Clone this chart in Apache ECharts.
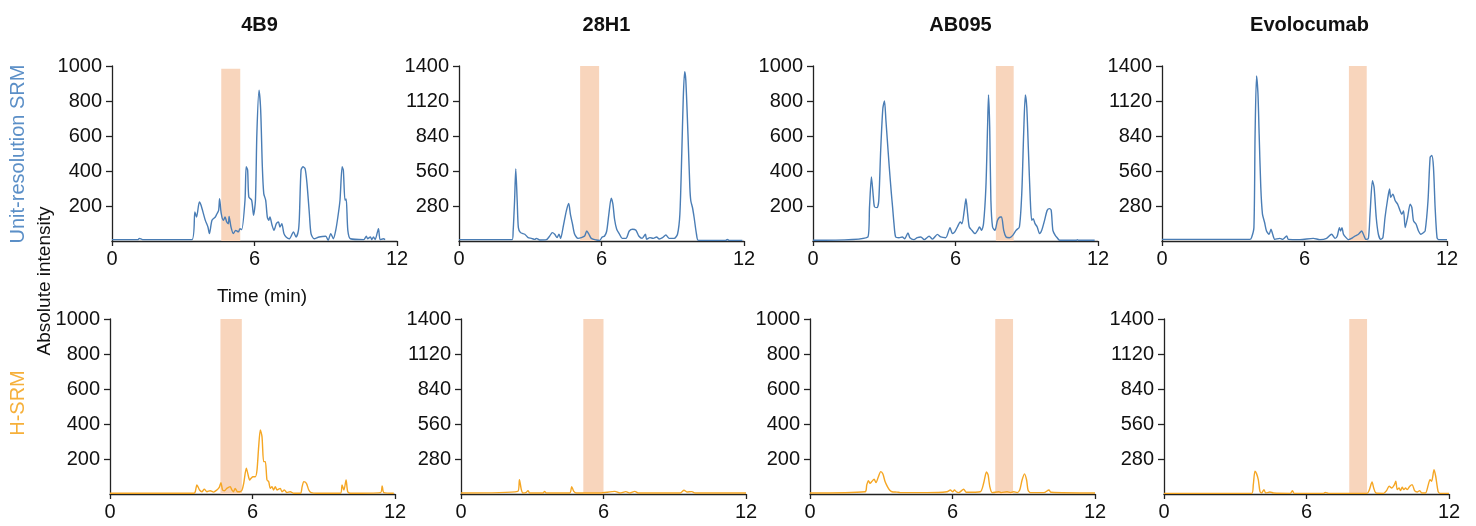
<!DOCTYPE html>
<html>
<head>
<meta charset="utf-8">
<script src="https://cdn.jsdelivr.net/npm/echarts@6/dist/echarts.min.js"></script>
<style>
  html, body { margin: 0; padding: 0; background: #fff; }
  #chart { width: 1476px; height: 526px; }
</style>
</head>
<body>
<div id="chart"></div>
<script>
// panel titles and axis scales
var panelNames = ["4B9", "28H1", "AB095", "Evolocumab"];
var yMaxes = [1000, 1400, 1000, 1400];
var yIntervals = [200, 280, 200, 280];
var xTicks = [0, 6, 12];

// shaded retention windows (min) and their top (intensity)
var windowsSrm = [[4.6, 5.4], [5.1, 5.9], [7.7, 8.45], [7.87, 8.62]];
var windowTopSrm = [985, 1415, 1000, 1400];
var windowsHsrm = [[4.65, 5.55], [5.15, 6.0], [7.8, 8.55], [7.8, 8.55]];
var windowTopHsrm = [1035, 1400, 1010, 1400];

// unit-resolution SRM traces [time, intensity]
var srm4B9 = [[0,8],[1.1,8],[1.15,15],[1.29,8],[3.37,8],[3.49,166],[3.56,137],[3.68,223],[3.75,204],[3.93,118],[4.04,80],[4.1,42],[4.21,118],[4.35,137],[4.42,156],[4.49,175],[4.53,242],[4.6,156],[4.69,118],[4.76,137],[4.83,109],[4.9,99],[4.93,141],[5.01,80],[5.11,42],[5.21,61],[5.32,52],[5.39,71],[5.46,65],[5.6,233],[5.65,424],[5.71,405],[5.76,252],[5.88,233],[5.96,147],[6.04,233],[6.1,614],[6.19,862],[6.26,748],[6.33,424],[6.39,271],[6.47,233],[6.54,137],[6.6,118],[6.65,137],[6.74,90],[6.82,61],[6.92,99],[7.01,109],[7.07,80],[7.15,99],[7.24,42],[7.33,23],[7.47,13],[7.64,52],[7.75,23],[7.85,61],[7.89,137],[7.96,405],[8.04,424],[8.13,414],[8.21,328],[8.31,156],[8.38,42],[8.51,13],[8.72,23],[9.0,27],[9.1,4],[9.21,42],[9.32,13],[9.42,61],[9.51,137],[9.6,233],[9.69,424],[9.74,405],[9.81,233],[9.86,240],[9.93,61],[10.04,13],[10.6,8],[10.71,27],[10.76,13],[10.88,23],[10.94,8],[11.01,23],[11.08,8],[11.22,71],[11.29,8],[11.43,13],[11.5,8]];
var srm28H1 = [[0,11],[2.24,11],[2.28,80],[2.34,322],[2.39,577],[2.45,322],[2.5,107],[2.59,67],[2.77,54],[2.91,27],[3.05,21],[3.19,13],[3.26,21],[3.4,8],[3.68,11],[3.82,40],[3.93,67],[4.03,54],[4.13,27],[4.21,54],[4.28,21],[4.38,107],[4.52,241],[4.62,300],[4.69,215],[4.78,134],[4.87,54],[5.01,21],[5.15,27],[5.29,40],[5.38,80],[5.47,54],[5.57,21],[5.78,8],[5.92,5],[6.03,32],[6.13,40],[6.22,80],[6.31,215],[6.41,343],[6.48,295],[6.55,174],[6.64,94],[6.76,54],[6.87,21],[7.03,21],[7.17,80],[7.31,94],[7.45,86],[7.57,40],[7.71,21],[7.85,54],[7.9,13],[8.04,27],[8.18,21],[8.32,32],[8.43,16],[8.57,27],[8.71,48],[8.85,21],[9.06,21],[9.2,54],[9.3,215],[9.38,697],[9.44,1127],[9.5,1354],[9.55,1287],[9.64,858],[9.72,429],[9.76,322],[9.83,268],[9.9,188],[10.0,54],[10.08,5],[11.23,5],[11.3,13],[11.37,5],[11.93,5]];
var srmAB095 = [[0,4],[2.31,23],[2.38,195],[2.46,366],[2.54,252],[2.59,195],[2.7,191],[2.77,233],[2.85,519],[2.94,756],[3.01,801],[3.07,690],[3.13,576],[3.21,424],[3.3,271],[3.35,195],[3.41,99],[3.48,23],[3.62,19],[3.76,23],[3.86,13],[4.0,46],[4.08,19],[4.25,8],[4.39,19],[4.54,23],[4.68,8],[4.89,27],[5.03,11],[5.24,38],[5.38,23],[5.59,19],[5.77,76],[5.87,42],[5.97,52],[6.08,80],[6.2,109],[6.27,99],[6.37,175],[6.44,242],[6.51,156],[6.58,80],[6.69,61],[6.82,42],[6.93,61],[7.01,80],[7.1,61],[7.18,99],[7.28,309],[7.35,652],[7.39,834],[7.44,652],[7.49,233],[7.56,80],[7.66,61],[7.77,118],[7.89,137],[7.94,137],[8.03,61],[8.13,23],[8.27,19],[8.41,32],[8.55,61],[8.69,80],[8.79,271],[8.87,614],[8.94,834],[9.0,767],[9.07,519],[9.15,233],[9.21,118],[9.27,128],[9.35,99],[9.44,80],[9.54,42],[9.63,61],[9.75,118],[9.86,175],[9.96,185],[10.03,175],[10.1,61],[10.2,32],[10.28,19],[10.38,4],[11.08,4],[11.13,8],[11.18,4],[11.86,4]];
var srmEvolocumab = [[0,13],[3.7,13],[3.77,27],[3.87,107],[3.92,858],[3.98,1320],[4.04,1180],[4.09,858],[4.16,429],[4.23,215],[4.32,148],[4.4,80],[4.51,54],[4.59,94],[4.66,54],[4.75,13],[4.96,21],[5.08,13],[5.25,40],[5.32,13],[5.81,11],[6.37,21],[6.65,11],[6.93,21],[7.14,54],[7.29,21],[7.38,40],[7.47,107],[7.52,80],[7.58,107],[7.64,54],[7.75,27],[7.85,11],[8.03,27],[8.13,40],[8.27,54],[8.41,80],[8.48,54],[8.59,13],[8.69,21],[8.76,215],[8.86,483],[8.93,429],[9.02,188],[9.11,54],[9.21,13],[9.3,27],[9.39,188],[9.49,322],[9.58,416],[9.63,349],[9.72,375],[9.82,322],[9.92,295],[10.0,255],[10.1,215],[10.17,241],[10.24,107],[10.34,188],[10.45,295],[10.52,268],[10.59,161],[10.7,134],[10.8,80],[10.9,54],[11.01,67],[11.08,80],[11.2,322],[11.29,670],[11.36,684],[11.43,590],[11.5,268],[11.58,27],[11.65,11],[12.0,11]];

// H-SRM traces [time, intensity]
var hsrm4B9 = [[0,4],[3.54,4],[3.59,13],[3.66,52],[3.77,23],[3.87,13],[3.97,27],[4.08,13],[4.22,19],[4.36,11],[4.5,23],[4.6,38],[4.67,65],[4.74,23],[4.82,19],[4.92,32],[5.06,42],[5.13,23],[5.2,13],[5.27,32],[5.37,13],[5.46,13],[5.56,23],[5.63,61],[5.74,147],[5.8,118],[5.88,80],[5.94,90],[6.02,99],[6.12,99],[6.19,137],[6.26,271],[6.33,366],[6.4,328],[6.47,185],[6.54,185],[6.61,80],[6.68,71],[6.75,32],[6.82,42],[6.89,23],[6.96,42],[7.03,23],[7.17,32],[7.24,13],[7.34,23],[7.45,8],[7.59,13],[7.74,4],[8.02,4],[8.09,42],[8.16,71],[8.27,61],[8.37,23],[8.47,8],[8.72,4],[9.7,4],[9.77,52],[9.85,23],[9.94,80],[10.01,13],[10.13,4],[11.39,8],[11.46,46],[11.53,8],[11.95,4]];
var hsrm28H1 = [[0,8],[2.39,21],[2.46,115],[2.54,35],[2.61,8],[2.75,13],[2.82,27],[2.89,8],[3.45,8],[3.52,21],[3.59,8],[4.58,8],[4.66,59],[4.75,21],[4.86,8],[5.85,8],[6.48,21],[6.69,8],[6.94,19],[7.11,8],[7.32,21],[7.46,8],[9.23,8],[9.39,30],[9.51,16],[9.72,19],[9.86,8],[12.0,8]];
var hsrmAB095 = [[0,6],[2.32,13],[2.39,52],[2.46,76],[2.53,61],[2.6,71],[2.7,84],[2.78,65],[2.88,99],[2.98,128],[3.07,114],[3.16,71],[3.26,42],[3.35,23],[3.45,13],[3.66,11],[3.8,8],[4.92,8],[5.77,13],[5.91,23],[6.01,13],[6.08,23],[6.16,13],[6.26,8],[6.47,27],[6.58,10],[7.17,13],[7.31,61],[7.43,126],[7.5,109],[7.57,42],[7.67,8],[7.95,13],[8.05,8],[8.3,13],[8.44,8],[8.58,13],[8.72,8],[8.83,23],[8.93,80],[9.03,115],[9.12,80],[9.18,23],[9.28,8],[9.85,8],[10.06,23],[10.15,10],[12.0,6]];
var hsrmEvolocumab = [[0,5],[3.69,5],[3.76,75],[3.83,182],[3.9,161],[3.97,115],[4.04,21],[4.11,8],[4.21,35],[4.28,8],[4.46,16],[4.61,8],[5.31,5],[5.41,27],[5.48,5],[6.72,5],[6.79,13],[6.93,5],[8.55,5],[8.65,35],[8.76,96],[8.83,48],[8.92,8],[9.25,5],[9.37,27],[9.48,62],[9.59,48],[9.7,75],[9.76,102],[9.82,35],[9.9,48],[9.96,27],[10.03,54],[10.1,35],[10.17,48],[10.24,35],[10.35,62],[10.45,75],[10.55,27],[10.66,16],[10.77,27],[10.85,8],[11.01,8],[11.13,75],[11.2,115],[11.27,102],[11.37,195],[11.44,142],[11.54,21],[11.62,5],[12.0,5]];

var srmTraces = [srm4B9, srm28H1, srmAB095, srmEvolocumab];
var hsrmTraces = [hsrm4B9, hsrm28H1, hsrmAB095, hsrmEvolocumab];

var fontFamily = "'Liberation Sans', Arial, Helvetica, sans-serif";
var blue = "#4a7db5";
var orange = "#f5a623";
var shade = "#f8d5bc";

var myChart = echarts.init(document.getElementById("chart"));

// grid placement
var topLefts = [112, 459, 813, 1162];
var bottomLefts = [110, 461, 810, 1164];
var gridWidth = 285;
var gridHeight = 175;
var rowTops = [66, 319];

var option = {
  animation: false,
  backgroundColor: "#fff",
  title: [],
  grid: [],
  xAxis: [],
  yAxis: [],
  series: [],
  graphic: [
    {
      type: "text", x: 18, y: 154, rotation: Math.PI / 2,
      style: { text: "Unit-resolution SRM", fill: "#5b8fc7", font: "20px " + fontFamily, align: "center", verticalAlign: "middle" }
    },
    {
      type: "text", x: 45, y: 281, rotation: Math.PI / 2,
      style: { text: "Absolute intensity", fill: "#111", font: "19px " + fontFamily, align: "center", verticalAlign: "middle" }
    },
    {
      type: "text", x: 18, y: 403, rotation: Math.PI / 2,
      style: { text: "H-SRM", fill: "#f6b03a", font: "20px " + fontFamily, align: "center", verticalAlign: "middle" }
    },
    {
      type: "text", x: 262, y: 297,
      style: { text: "Time (min)", fill: "#111", font: "19px " + fontFamily, align: "center", verticalAlign: "middle" }
    }
  ]
};

for (var i = 0; i < panelNames.length; i++) {
  option.title.push({
    text: panelNames[i],
    left: topLefts[i] + gridWidth / 2,
    top: 10,
    textAlign: "center",
    textStyle: { fontFamily: fontFamily, fontSize: 20, fontWeight: "bold", color: "#111" }
  });
}

function addPanel(idx, left, top, yMax, yInterval, trace, color, win, winTop) {
  option.grid.push({ left: left, top: top, width: gridWidth, height: gridHeight, containLabel: false });
  option.xAxis.push({
    type: "value",
    gridIndex: idx,
    min: xTicks[0],
    max: xTicks[xTicks.length - 1],
    interval: xTicks[1] - xTicks[0],
    splitLine: { show: false },
    axisLine: { lineStyle: { color: "#222", width: 1.3 } },
    axisTick: { show: true, length: 5, lineStyle: { color: "#222", width: 1.3 } },
    axisLabel: { color: "#111", fontSize: 20, fontFamily: fontFamily, margin: 8 }
  });
  option.yAxis.push({
    type: "value",
    gridIndex: idx,
    min: 0,
    max: yMax,
    interval: yInterval,
    splitLine: { show: false },
    axisLine: { show: true, lineStyle: { color: "#222", width: 1.3 } },
    axisTick: { show: true, length: 6, lineStyle: { color: "#222", width: 1.3 } },
    axisLabel: {
      color: "#111", fontSize: 20, fontFamily: fontFamily, margin: 10, showMinLabel: false,
      formatter: function(v) { return String(v); }
    }
  });
  option.series.push({
    type: "line",
    xAxisIndex: idx,
    yAxisIndex: idx,
    data: trace,
    showSymbol: false,
    smooth: 0.25,
    clip: false,
    lineStyle: { color: color, width: 1.4 },
    markArea: {
      silent: true,
      itemStyle: { color: shade, opacity: 1 },
      data: [[{ xAxis: win[0], yAxis: 0 }, { xAxis: win[1], yAxis: winTop }]]
    }
  });
}

for (var j = 0; j < panelNames.length; j++) {
  addPanel(j, topLefts[j], rowTops[0], yMaxes[j], yIntervals[j], srmTraces[j], blue, windowsSrm[j], windowTopSrm[j]);
}
for (var k = 0; k < panelNames.length; k++) {
  addPanel(4 + k, bottomLefts[k], rowTops[1], yMaxes[k], yIntervals[k], hsrmTraces[k], orange, windowsHsrm[k], windowTopHsrm[k]);
}

myChart.setOption(option);
</script>
</body>
</html>
